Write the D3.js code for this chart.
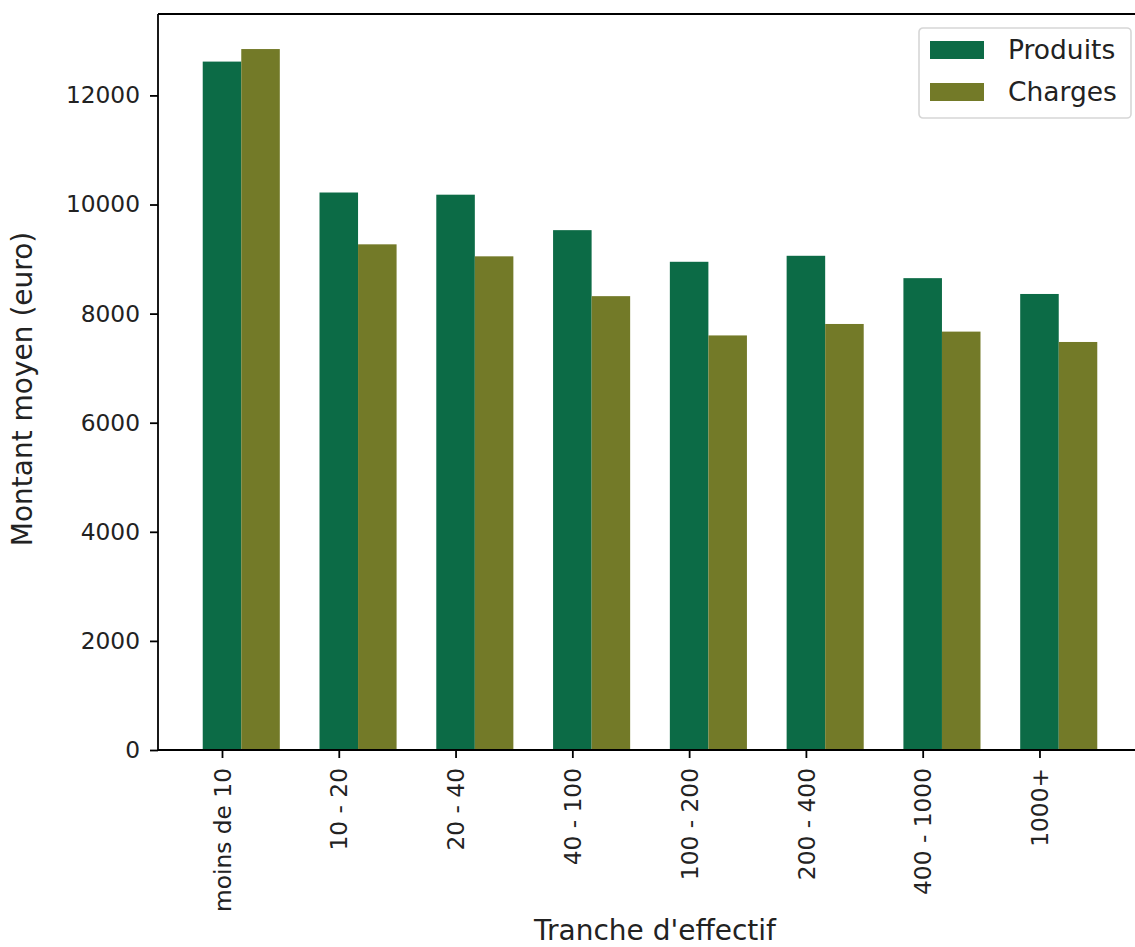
<!DOCTYPE html>
<html>
<head>
<meta charset="utf-8">
<script src="https://cdn.jsdelivr.net/npm/d3@7"></script>
<style>
  html, body { margin: 0; padding: 0; background: #fff; }
  svg { display: block; font-family: "DejaVu Sans", sans-serif; }
</style>
</head>
<body>
<svg id="chart" width="1135" height="947"></svg>
<script>
// Average amounts per workforce bracket
const categories = ["moins de 10", "10 - 20", "20 - 40", "40 - 100", "100 - 200", "200 - 400", "400 - 1000", "1000+"];
const produits = [12620, 10220, 10180, 9530, 8950, 9060, 8650, 8360];
const charges  = [12850, 9270, 9050, 8320, 7600, 7810, 7670, 7480];
const seriesNames = ["Produits", "Charges"];
const yTicks = [0, 2000, 4000, 6000, 8000, 10000, 12000];

const colors = { Produits: "#0c6b46", Charges: "#737a28" };
const barW = 0.33;

const svg = d3.select("#chart");
const plotL = 158, plotR = 1142, plotT = 14, plotB = 750;

// x in category units, with 5% padding around the bar extent
const xMin = -barW / 2, xMax = (categories.length - 1) + barW + barW / 2;
const xPad = (xMax - xMin) * 0.05;
const x = d3.scaleLinear().domain([xMin - xPad, xMax + xPad]).range([plotL, plotR]);

const yMax = d3.max(produits.concat(charges)) * 1.05;
const y = d3.scaleLinear().domain([0, yMax]).range([plotB, plotT]);

// bars
const rows = categories.map((c, i) => ({ c, i, p: produits[i], ch: charges[i] }));
const g = svg.append("g");
g.selectAll("rect.prod").data(rows).join("rect")
  .attr("class", "prod")
  .attr("x", d => x(d.i - barW / 2))
  .attr("width", d => x(d.i + barW / 2) - x(d.i - barW / 2))
  .attr("y", d => y(d.p))
  .attr("height", d => y(0) - y(d.p))
  .attr("fill", colors.Produits);
g.selectAll("rect.chg").data(rows).join("rect")
  .attr("class", "chg")
  .attr("x", d => x(d.i + barW / 2))
  .attr("width", d => x(d.i + barW * 1.5) - x(d.i + barW / 2))
  .attr("y", d => y(d.ch))
  .attr("height", d => y(0) - y(d.ch))
  .attr("fill", colors.Charges);

// y axis
const yAxis = d3.axisLeft(y).tickValues(yTicks).tickFormat(d3.format("d")).tickSize(8).tickPadding(10);
const ya = svg.append("g").attr("transform", `translate(${plotL},0)`).call(yAxis);
ya.select(".domain").remove();
ya.selectAll(".tick line").attr("stroke", "#000").attr("stroke-width", 1.8);
ya.selectAll(".tick text").attr("font-size", 23.3).attr("fill", "#222")
  .attr("font-family", "DejaVu Sans");

// x axis
const xAxis = d3.axisBottom(x).tickValues(categories.map((c, i) => i))
  .tickFormat(i => categories[i]).tickSize(8).tickPadding(10);
const xa = svg.append("g").attr("transform", `translate(0,${plotB})`).call(xAxis);
xa.select(".domain").remove();
xa.selectAll(".tick line").attr("stroke", "#000").attr("stroke-width", 1.8);
xa.selectAll(".tick text")
  .attr("font-size", 23.3).attr("fill", "#222").attr("font-family", "DejaVu Sans")
  .attr("text-anchor", "end")
  .attr("transform", "rotate(-90)")
  .attr("x", -18).attr("y", 0).attr("dy", "0.35em");

// spines
const spine = svg.append("g").attr("stroke", "#000").attr("stroke-width", 1.8).attr("fill", "none");
spine.append("line").attr("x1", plotL).attr("x2", plotL).attr("y1", plotT).attr("y2", plotB);
spine.append("line").attr("x1", plotR).attr("x2", plotR).attr("y1", plotT).attr("y2", plotB);
spine.append("line").attr("x1", plotL).attr("x2", plotR).attr("y1", plotT).attr("y2", plotT);
spine.append("line").attr("x1", plotL).attr("x2", plotR).attr("y1", plotB).attr("y2", plotB);

// axis titles
svg.append("text").attr("x", 655).attr("y", 940).attr("text-anchor", "middle")
  .attr("font-size", 28).attr("fill", "#222").text("Tranche d'effectif");
svg.append("text").attr("transform", "translate(32,389) rotate(-90)").attr("text-anchor", "middle")
  .attr("font-size", 28).attr("fill", "#222").text("Montant moyen (euro)");

// legend
const lg = svg.append("g").attr("transform", "translate(919,28)");
lg.append("rect").attr("width", 212).attr("height", 90).attr("rx", 4)
  .attr("fill", "#fff").attr("fill-opacity", 0.8).attr("stroke", "#d6d6d6").attr("stroke-width", 1.6);
seriesNames.forEach((s, k) => {
  const yy = 13 + k * 42;
  lg.append("rect").attr("x", 11).attr("y", yy).attr("width", 54).attr("height", 18).attr("fill", colors[s]);
  lg.append("text").attr("x", 89).attr("y", yy + 9).attr("dy", "0.35em")
    .attr("font-size", 26.5).attr("fill", "#222").text(s);
});
</script>
</body>
</html>
